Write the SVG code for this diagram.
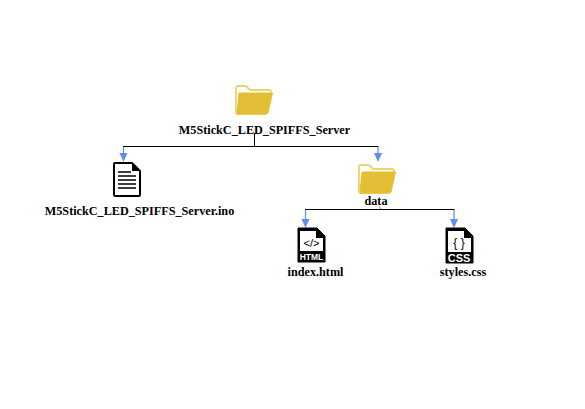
<svg xmlns="http://www.w3.org/2000/svg" width="585" height="409" viewBox="0 0 585 409">
<style>
text{font-family:"Liberation Serif","Times New Roman",serif;font-weight:700;font-size:12.200px;fill:#000;text-anchor:middle}
.wire{fill:none;stroke:#000;stroke-width:1}
.tip{fill:none;stroke:#5b8ff0;stroke-width:1.200}
.head{fill:#5b8ff0}
.back{fill:none;stroke:#efd46a;stroke-width:1.800;stroke-linejoin:round}
.front{fill:#e2bf35;stroke:#e2bf35;stroke-width:1;stroke-linejoin:round}
</style>
<defs>
<g id="folder">
<path class="back" d="M1 27V3Q1 1 3 1H11L15 5H34Q36 5 36 7V8"/>
<path class="back" d="M1 27Q1 29 3 29H31"/>
<path class="front" d="M4 8H37.500L33 28Q32.500 29 31 29H2Q2 28 2.300 26Z"/>
</g>
</defs>
<g id="connectors">
<path class="wire" d="M254.500 133V146.500M123 146.500H378.500M305 209.500H454.500"/>
<path class="tip" d="M123.500 147V156M378 147V156M305.500 210V220M454 210V220"/>
<path class="head" d="M119.500 153H127.500L123.500 162ZM374 153H382L378 162ZM301.500 219H309.500L305.500 228ZM450 219H458L454 228Z"/>
<path d="M379 206.500L381 209" fill="none" stroke="#666" stroke-width="0.800"/>
</g>
<g id="root"><use href="#folder" x="235" y="85"/><text x="264.500" y="134">M5StickC_LED_SPIFFS_Server</text></g>
<g id="ino">
<path d="M115 163H132L140 171V195Q140 196 139 196H115Q114 196 114 195V164Q114 163 115 163Z" fill="#fff" stroke="#000" stroke-width="2" stroke-linejoin="round"/>
<path d="M132 163V171H140Z" fill="#000"/>
<path d="M118 172H131M118 176H136M118 180H136M118 184H136M118 188H136" stroke="#000" stroke-width="1.300" fill="none"/>
<text x="139.500" y="215">M5StickC_LED_SPIFFS_Server.ino</text>
</g>
<g id="data"><use href="#folder" x="358" y="164"/><text x="376" y="205">data</text></g>
<g id="index">
<path d="M298 228H317L325 236V262H298Z" fill="#000" stroke="#000" stroke-width="1" stroke-linejoin="round"/>
<path d="M300 231H316V238H323V251H300Z" fill="#fff"/>
<text x="311.500" y="247" style="font-family:'Liberation Sans',sans-serif;font-size:11px;font-weight:400">&lt;/&gt;</text>
<text x="311.500" y="260" style="font-family:'Liberation Sans',sans-serif;font-size:8.500px;fill:#fff">HTML</text>
<text x="315.500" y="276">index.html</text>
</g>
<g id="styles">
<path d="M446 228H465L473 236V263H446Z" fill="#000" stroke="#000" stroke-width="1" stroke-linejoin="round"/>
<path d="M448 231H464V238H471V252H448Z" fill="#fff"/>
<text x="459" y="247" style="font-family:'Liberation Sans',sans-serif;font-size:12px;font-weight:400">{ }</text>
<text x="459" y="262" style="font-family:'Liberation Sans',sans-serif;font-size:11px;fill:#fff">CSS</text>
<text x="463" y="276">styles.css</text>
</g>
</svg>
